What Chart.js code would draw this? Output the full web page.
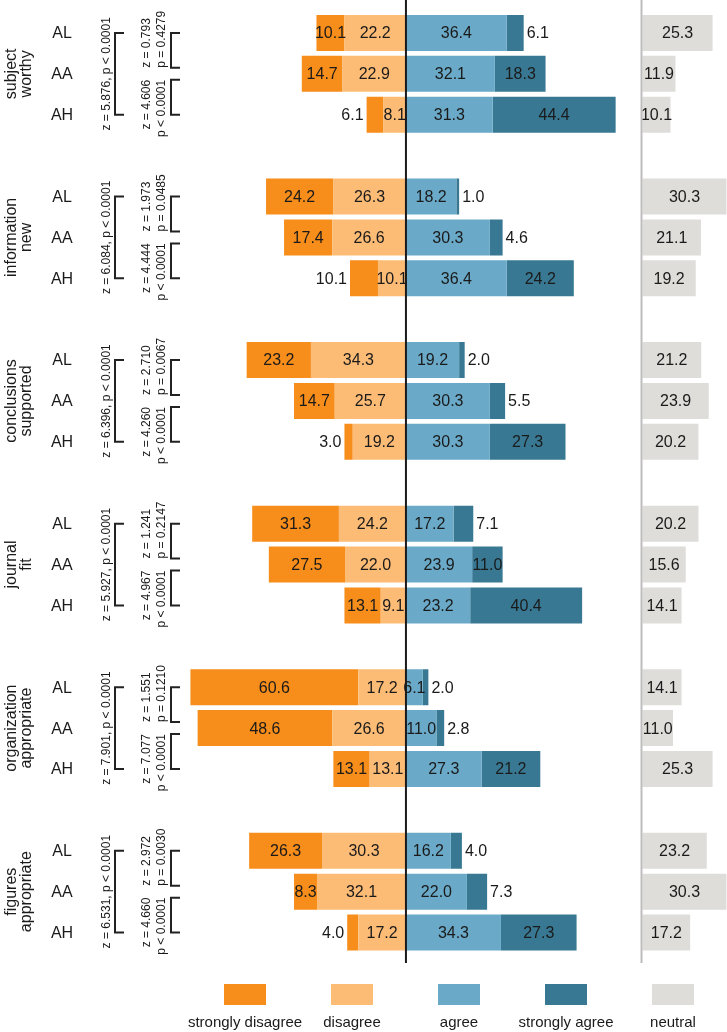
<!DOCTYPE html>
<html>
<head>
<meta charset="utf-8">
<script src="https://cdn.jsdelivr.net/npm/chart.js@4.4.1/dist/chart.umd.min.js"></script>
<style>
    body { margin: 0; background: #fff; }
    canvas { display: block; }
</style>
</head>
<body>
<canvas id="grafico" width="727" height="1032"></canvas>
<script>
const grupos = [
    ['subject', 'worthy'],
    ['information', 'new'],
    ['conclusions', 'supported'],
    ['journal', 'fit'],
    ['organization', 'appropriate'],
    ['figures', 'appropriate']
];
const linhas = ['AL', 'AA', 'AH'];

// valores em % (AL, AA, AH por grupo)
const stronglyDisagree = [10.1, 14.7, 6.1, 24.2, 17.4, 10.1, 23.2, 14.7, 3.0, 31.3, 27.5, 13.1, 60.6, 48.6, 13.1, 26.3, 8.3, 4.0];
const disagree = [22.2, 22.9, 8.1, 26.3, 26.6, 10.1, 34.3, 25.7, 19.2, 24.2, 22.0, 9.1, 17.2, 26.6, 13.1, 30.3, 32.1, 17.2];
const agree = [36.4, 32.1, 31.3, 18.2, 30.3, 36.4, 19.2, 30.3, 30.3, 17.2, 23.9, 23.2, 6.1, 11.0, 27.3, 16.2, 22.0, 34.3];
const stronglyAgree = [6.1, 18.3, 44.4, 1.0, 4.6, 24.2, 2.0, 5.5, 27.3, 7.1, 11.0, 40.4, 2.0, 2.8, 21.2, 4.0, 7.3, 27.3];
const neutral = [25.3, 11.9, 10.1, 30.3, 21.1, 19.2, 21.2, 23.9, 20.2, 20.2, 15.6, 14.1, 14.1, 11.0, 25.3, 23.2, 30.3, 17.2];

const testeGeral = [
    'z = 5.876, p < 0.0001', 'z = 6.084, p < 0.0001', 'z = 6.396, p < 0.0001',
    'z = 5.927, p < 0.0001', 'z = 7.901, p < 0.0001', 'z = 6.531, p < 0.0001'
];
const testeALAA = [
    ['z = 0.793', 'p = 0.4279'], ['z = 1.973', 'p = 0.0485'], ['z = 2.710', 'p = 0.0067'],
    ['z = 1.241', 'p = 0.2147'], ['z = 1.551', 'p = 0.1210'], ['z = 2.972', 'p = 0.0030']
];
const testeAAAH = [
    ['z = 4.606', 'p < 0.0001'], ['z = 4.444', 'p < 0.0001'], ['z = 4.260', 'p < 0.0001'],
    ['z = 4.967', 'p < 0.0001'], ['z = 7.077', 'p < 0.0001'], ['z = 4.660', 'p < 0.0001']
];

const cores = {
    sd: '#F78D1A',
    d: '#FDBC76',
    a: '#6AAAC8',
    sa: '#387893',
    n: '#DEDDDA'
};

const FONTE = '"Liberation Sans", Arial, sans-serif';

// uma linha vazia entre os grupos
function espacar(arr) {
    const out = [];
    grupos.forEach((g, gi) => {
        if (gi > 0) out.push(null);
        linhas.forEach((l, li) => out.push(arr === null ? l : arr[gi * 3 + li]));
    });
    return out;
}
const labels = espacar(null).map(l => l === null ? '' : l);

function textoVertical(ctx, txt, x, y, align) {
    ctx.save();
    ctx.translate(x, y);
    ctx.rotate(-Math.PI / 2);
    ctx.textAlign = align;
    ctx.textBaseline = 'middle';
    ctx.fillText(txt, 0, 0);
    ctx.restore();
}

const rotulos = {
    id: 'rotulos',
    afterDatasetsDraw(chart) {
        const ctx = chart.ctx;
        ctx.save();
        ctx.font = `16px ${FONTE}`;
        ctx.fillStyle = '#1a1a1a';
        ctx.textBaseline = 'middle';
        const metas = chart.data.datasets.map((d, i) => chart.getDatasetMeta(i));
        labels.forEach((lab, i) => {
            if (lab === '') return;
            const seg = metas.map((m, di) => {
                const p = m.data[i].getProps(['x', 'base', 'y'], true);
                const v = Math.abs(chart.data.datasets[di].data[i]);
                const txt = v.toFixed(1);
                return {
                    x0: Math.min(p.x, p.base), x1: Math.max(p.x, p.base), y: p.y + 1,
                    v, txt, w: ctx.measureText(txt).width, c: (p.x + p.base) / 2
                };
            });
            ctx.textAlign = 'center';
            [0, 2, 4].forEach(k => ctx.fillText(seg[k].txt, seg[k].c, seg[k].y));
            // segmentos externos: fora da barra se pequenos ou se colidem com o vizinho
            [[1, 0, -1], [3, 2, 1]].forEach(([k, viz, lado]) => {
                const s = seg[k], n = seg[viz];
                const colide = Math.abs(s.c - n.c) < (s.w + n.w) / 2;
                if (s.v < 8 || colide) {
                    ctx.textAlign = lado < 0 ? 'right' : 'left';
                    ctx.fillText(s.txt, lado < 0 ? s.x0 - 3 : s.x1 + 3, s.y);
                } else {
                    ctx.textAlign = 'center';
                    ctx.fillText(s.txt, s.c, s.y);
                }
            });
        });
        ctx.restore();
    },
    afterDraw(chart) {
        const ctx = chart.ctx;
        const y = chart.scales.y;
        ctx.save();

        // linhas verticais
        ctx.lineWidth = 2;
        ctx.strokeStyle = '#1a1a1a';
        const x0 = chart.scales.x.getPixelForValue(0);
        ctx.beginPath(); ctx.moveTo(x0, 0); ctx.lineTo(x0, 963); ctx.stroke();
        ctx.strokeStyle = '#BDBDBD';
        const xn = chart.scales.x2.getPixelForValue(0) - 1;
        ctx.beginPath(); ctx.moveTo(xn, 0); ctx.lineTo(xn, 963); ctx.stroke();

        ctx.fillStyle = '#1a1a1a';
        ctx.strokeStyle = '#222';
        ctx.lineWidth = 2;
        grupos.forEach((g, gi) => {
            const yAL = y.getPixelForValue(gi * 4);
            const yAA = y.getPixelForValue(gi * 4 + 1);
            const yAH = y.getPixelForValue(gi * 4 + 2);

            ctx.font = `16px ${FONTE}`;
            textoVertical(ctx, g[0], 12, yAA, 'center');
            textoVertical(ctx, g[1], 27, yAA, 'center');

            ctx.textAlign = 'center';
            ctx.textBaseline = 'middle';
            [yAL, yAA, yAH].forEach((yy, li) => ctx.fillText(linhas[li], 62, yy + 1));

            ctx.font = `12px ${FONTE}`;
            textoVertical(ctx, testeGeral[gi], 107, yAA, 'center');
            textoVertical(ctx, testeALAA[gi][0], 147, yAA - 6, 'left');
            textoVertical(ctx, testeALAA[gi][1], 162, yAA - 6, 'left');
            textoVertical(ctx, testeAAAH[gi][0], 147, yAA + 6, 'right');
            textoVertical(ctx, testeAAAH[gi][1], 162, yAA + 6, 'right');

            const colchete = (xv, xt, ya, yb) => {
                ctx.beginPath();
                ctx.moveTo(xt, ya); ctx.lineTo(xv, ya); ctx.lineTo(xv, yb); ctx.lineTo(xt, yb);
                ctx.stroke();
            };
            colchete(115, 124, yAL, yAH);
            colchete(171, 180, yAL, yAA - 6);
            colchete(171, 180, yAA + 6, yAH);
        });

        // legenda
        const itens = [
            ['strongly disagree', cores.sd], ['disagree', cores.d], ['agree', cores.a],
            ['strongly agree', cores.sa], ['neutral', cores.n]
        ];
        ctx.font = `15px ${FONTE}`;
        ctx.textAlign = 'center';
        ctx.textBaseline = 'middle';
        itens.forEach(([nome, cor], i) => {
            const bx = 224 + i * 107;
            ctx.fillStyle = cor;
            ctx.fillRect(bx, 984, 42, 21);
            ctx.fillStyle = '#1a1a1a';
            ctx.fillText(nome, bx + 21, 1023);
        });
        ctx.restore();
    }
};

const serie = (label, dados, cor, eixo) => ({
    label,
    data: espacar(dados),
    backgroundColor: cor,
    borderWidth: 0,
    xAxisID: eixo,
    barPercentage: 0.88,
    categoryPercentage: 1
});

const ctx = document.getElementById('grafico').getContext('2d');
const grafico = new Chart(ctx, {
    type: 'bar',
    data: {
        labels,
        datasets: [
            serie('disagree', disagree.map(v => -v), cores.d, 'x'),
            serie('strongly disagree', stronglyDisagree.map(v => -v), cores.sd, 'x'),
            serie('agree', agree, cores.a, 'x'),
            serie('strongly agree', stronglyAgree, cores.sa, 'x'),
            serie('neutral', neutral, cores.n, 'x2')
        ]
    },
    options: {
        indexAxis: 'y',
        responsive: false,
        animation: false,
        devicePixelRatio: 1,
        layout: { padding: { left: 186, right: 0, top: 12.5, bottom: 79 } },
        plugins: {
            legend: { display: false },
            tooltip: { enabled: false }
        },
        scales: {
            x: { display: false, stacked: true, min: -79.4, max: 115.9 },
            x2: { display: false, stacked: true, min: -164.8, max: 30.5 },
            y: { display: false, stacked: true }
        }
    },
    plugins: [rotulos]
});
</script>
</body>
</html>
